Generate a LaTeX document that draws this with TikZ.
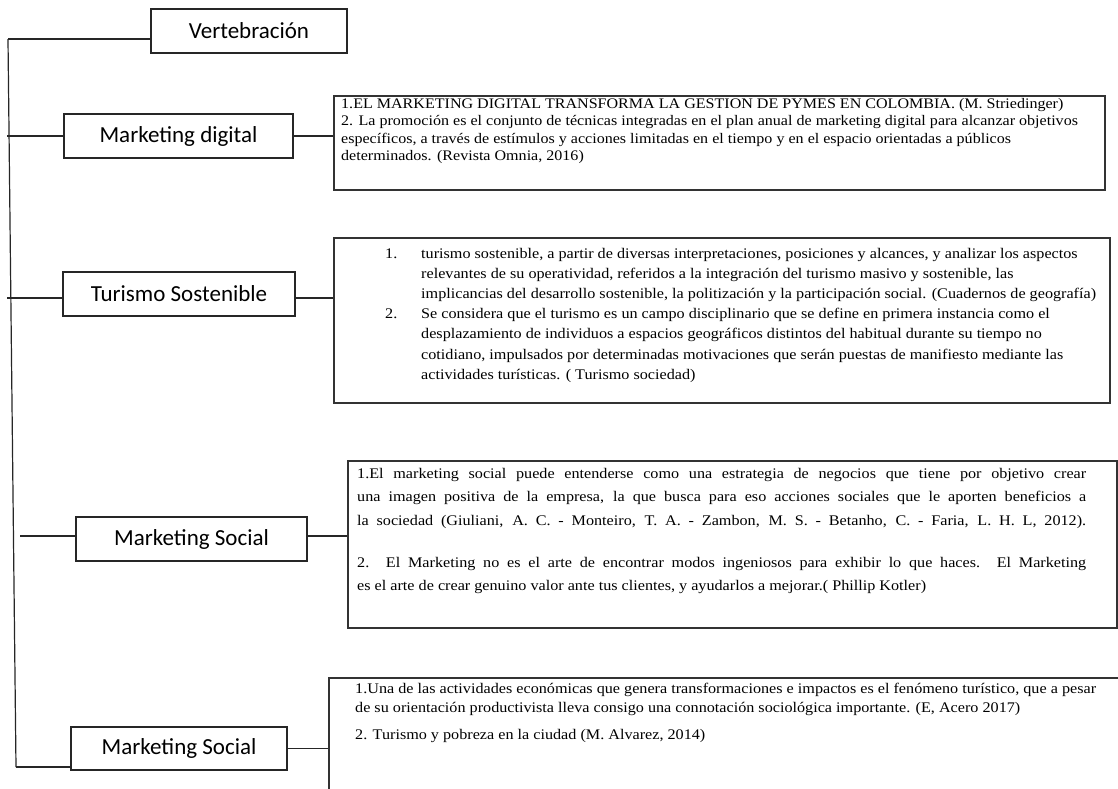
\documentclass[tikz,border=0pt]{standalone}
\usepackage{fontspec}
\setmainfont{Liberation Serif}[FakeStretch=1.1]
\newfontfamily\calfont{Carlito}
\usetikzlibrary{positioning}

\begin{document}
\begin{tikzpicture}[x=1pt, y=-1pt,
  tema/.style={rectangle, draw=black!85, line width=1.3pt, minimum height=44pt, inner sep=0pt, font=\calfont\fontsize{23}{27}\selectfont},
  nota/.style={rectangle, draw=black!80, line width=1.7pt, anchor=north west, inner sep=0pt},
  texto/.style={anchor=base west, inner sep=0pt},
  rama/.style={draw=black!85, line width=1.2pt}
]
\useasboundingbox (0,0) rectangle (1118,788);
\clip (0,0) rectangle (1118,788);

% Temas
\node[tema, minimum width=196pt] (vert)  at (249,31)    {Vertebración};
\node[tema, minimum width=229pt] (mdig)  at (178.5,136) {Marketing digital};
\node[tema, minimum width=232pt] (tur)   at (179,294)   {Turismo Sostenible};
\node[tema, minimum width=231pt] (msoc1) at (191.5,539) {Marketing Social};
\node[tema, minimum width=216pt, minimum height=43pt] (msoc2) at (179,748.5) {Marketing Social};

% Notas
\node[nota, minimum width=771pt, minimum height=94pt]  (c1) at (333,95)  {};
\node[nota, minimum width=776pt, minimum height=165pt] (c2) at (333,237) {};
\node[nota, minimum width=769pt, minimum height=167pt] (c3) at (347,460) {};
\node[nota, minimum width=820pt, minimum height=140pt] (c4) at (328,677) {};

\node[texto] (t1) at (341,108.5) {\fontsize{14.6}{17.3}\selectfont
\begin{tabular}[t]{@{}l@{}}
1.EL MARKETING DIGITAL TRANSFORMA LA GESTION DE PYMES EN COLOMBIA. (M. Striedinger)\\
2. La promoción es el conjunto de técnicas integradas en el plan anual de marketing digital para alcanzar objetivos\\
específicos, a través de estímulos y acciones limitadas en el tiempo y en el espacio orientadas a públicos\\
determinados. (Revista Omnia, 2016)
\end{tabular}};

\node[texto] (t2) at (385,258) {\fontsize{14.7}{20.2}\selectfont
\begin{tabular}[t]{@{}l@{}}
\makebox[36pt][l]{1.}turismo sostenible, a partir de diversas interpretaciones, posiciones y alcances, y analizar los aspectos\\
\hspace*{36pt}relevantes de su operatividad, referidos a la integración del turismo masivo y sostenible, las\\
\hspace*{36pt}implicancias del desarrollo sostenible, la politización y la participación social. (Cuadernos de geografía)\\
\makebox[36pt][l]{2.}Se considera que el turismo es un campo disciplinario que se define en primera instancia como el\\
\hspace*{36pt}desplazamiento de individuos a espacios geográficos distintos del habitual durante su tiempo no\\
\hspace*{36pt}cotidiano, impulsados por determinadas motivaciones que serán puestas de manifiesto mediante las\\
\hspace*{36pt}actividades turísticas. ( Turismo sociedad)
\end{tabular}};

\node[texto] (t3) at (357,478) {\fontsize{14.7}{23.5}\selectfont
\begin{tabular}[t]{@{}l@{}}
\makebox[729pt][s]{1.El marketing social puede entenderse como una estrategia de negocios que tiene por objetivo crear}\\
\makebox[729pt][s]{una imagen positiva de la empresa, la que busca para eso acciones sociales que le aporten beneficios a}\\
\makebox[729pt][s]{la sociedad (Giuliani, A. C. - Monteiro, T. A. - Zambon, M. S. - Betanho, C. - Faria, L. H. L, 2012).}\\[18.5pt]
\makebox[729pt][s]{2. El Marketing no es el arte de encontrar modos ingeniosos para exhibir lo que haces. El Marketing}\\
es el arte de crear genuino valor ante tus clientes, y ayudarlos a mejorar.( Phillip Kotler)
\end{tabular}};

\node[texto] (t4) at (355,693) {\fontsize{14.7}{19}\selectfont
\begin{tabular}[t]{@{}l@{}}
1.Una de las actividades económicas que genera transformaciones e impactos es el fenómeno turístico, que a pesar\\
de su orientación productivista lleva consigo una connotación sociológica importante. (E, Acero 2017)\\[8pt]
2. Turismo y pobreza en la ciudad (M. Alvarez, 2014)
\end{tabular}};

% Eje y ramas
\coordinate (e0) at (8,39);
\coordinate (e1) at (7,136);
\coordinate (e2) at (7,298);
\coordinate (e3) at (20,536);
\coordinate (e4) at (16,767);
\draw[rama] (e0) -- (e4);
\draw[rama] (e0) -- (vert.west |- e0);
\draw[rama] (e1) -- (mdig.west);
\draw[rama] (e2) -- (tur.west |- e2);
\draw[rama] (e3) -- (msoc1.west |- e3);
\draw[rama] (e4) -- (msoc2.west |- e4);

% Hacia las notas
\draw[rama] (mdig.east) -- (mdig.east -| c1.west);
\draw[rama] (tur.east |- e2) -- (c2.west |- e2);
\draw[rama] (msoc1.east |- e3) -- (c3.west |- e3);
\draw[rama] (msoc2.east) -- (msoc2.east -| c4.west);
\end{tikzpicture}
\end{document}
